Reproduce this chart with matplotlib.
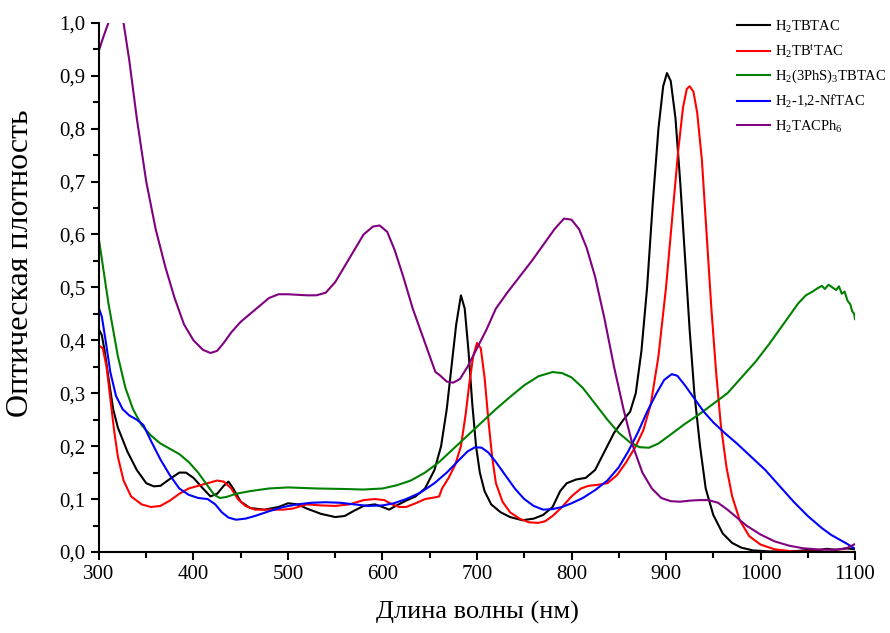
import matplotlib
matplotlib.use("Agg")
import matplotlib.pyplot as plt
from matplotlib.ticker import MultipleLocator, FuncFormatter

plt.rcParams['font.family'] = ['Liberation Serif', 'DejaVu Serif']
plt.rcParams['mathtext.fontset'] = 'custom'
plt.rcParams['mathtext.rm'] = 'Liberation Serif'
plt.rcParams['mathtext.it'] = 'Liberation Serif:italic'

# H2TBTAC
wl_black = [300, 303, 306, 310, 315, 320, 330, 340, 350, 358, 365, 375, 385, 392, 400, 410, 418, 425, 432, 437,
            442, 450, 460, 475, 490, 500, 510, 520, 535, 550, 560, 570, 580, 592, 600, 607, 615, 625, 635, 645,
            655, 662, 668, 673, 678, 683, 687, 691, 695, 699, 703, 708, 715, 725, 735, 748, 760, 770, 780, 788,
            795, 805, 815, 825, 835, 845, 855, 862, 868, 874, 880, 886, 892, 897, 901, 905, 910, 915, 920, 925,
            930, 936, 942, 950, 960, 970, 980, 992, 1010, 1040, 1050, 1060, 1070, 1080, 1090, 1100]
ab_black = [.42, .41, .38, .33, .27, .235, .19, .155, .13, .124, .125, .138, .15, .15, .14, .12, .105, .11, .125, .133,
            .12, .095, .083, .08, .085, .092, .09, .082, .072, .066, .068, .078, .087, .09, .085, .08, .088, .097, .105, .12,
            .155, .2, .27, .35, .43, .485, .46, .38, .28, .2, .15, .115, .09, .075, .066, .06, .063, .07, .085, .115,
            .13, .137, .14, .155, .19, .225, .25, .265, .3, .38, .5, .66, .8, .88, .905, .89, .82, .7, .56, .42,
            .3, .2, .12, .07, .035, .017, .008, .003, .001, .002, .004, .003, .006, .004, .007, .005]

# H2TBtTAC
wl_red = [300, 304, 308, 312, 316, 320, 326, 334, 345, 355, 365, 375, 385, 395, 405, 415, 425, 432, 440, 447,
          455, 465, 480, 495, 505, 520, 535, 550, 565, 580, 592, 602, 610, 618, 625, 635, 645, 655, 660, 663,
          670, 677, 683, 688, 692, 696, 700, 704, 708, 712, 716, 720, 727, 735, 745, 755, 765, 772, 780, 790,
          800, 810, 818, 828, 838, 848, 858, 868, 876, 884, 892, 900, 907, 913, 918, 922, 925, 929, 933, 938,
          943, 948, 953, 958, 964, 970, 978, 988, 1000, 1015, 1035, 1100]
ab_red = [.39, .385, .35, .29, .23, .18, .135, .105, .09, .085, .087, .097, .11, .12, .125, .13, .135, .133, .12, .1,
          .087, .08, .08, .08, .082, .09, .088, .087, .09, .098, .1, .098, .09, .085, .085, .092, .1, .103, .105, .12,
          .14, .165, .2, .26, .32, .37, .395, .385, .33, .25, .18, .13, .095, .075, .063, .056, .055, .058, .068, .085,
          .105, .12, .125, .127, .13, .145, .17, .2, .23, .28, .37, .5, .64, .76, .84, .875, .88, .87, .83, .74,
          .6, .46, .34, .24, .16, .105, .06, .03, .014, .005, .001, 0.0]

# H2(3PhS)3TBTAC
wl_green = [300, 305, 310, 315, 320, 328, 336, 345, 355, 365, 375, 385, 395, 405, 415, 422, 428, 435, 445, 460,
            480, 500, 530, 560, 580, 600, 615, 630, 645, 660, 675, 690, 705, 720, 735, 750, 765, 780, 790, 800,
            812, 825, 838, 850, 862, 872, 882, 892, 905, 920, 935, 950, 965, 980, 995, 1010, 1022, 1032, 1040, 1048,
            1055, 1060, 1065, 1068, 1072, 1076, 1080, 1083, 1086, 1089, 1092, 1095, 1097, 1099, 1100]
ab_green = [.59, .53, .47, .42, .37, .31, .27, .24, .22, .205, .195, .185, .17, .15, .125, .108, .102, .104, .11, .115,
            .12, .122, .12, .119, .118, .12, .126, .135, .15, .17, .195, .22, .245, .27, .293, .315, .332, .34, .338, .33,
            .31, .28, .25, .225, .207, .198, .197, .205, .222, .242, .26, .28, .3, .33, .36, .395, .425, .45, .47, .485,
            .492, .498, .503, .497, .505, .5, .495, .502, .488, .492, .475, .468, .455, .45, .44]

# H2-1,2-NfTAC
wl_blue = [300, 303, 307, 312, 318, 325, 332, 340, 347, 355, 365, 375, 385, 395, 405, 415, 423, 430, 437, 445,
           455, 465, 480, 495, 510, 525, 540, 555, 570, 585, 600, 612, 625, 640, 655, 668, 680, 690, 698, 705,
           712, 720, 730, 740, 750, 760, 770, 780, 790, 800, 812, 825, 838, 850, 860, 870, 880, 890, 898, 906,
           912, 920, 930, 940, 950, 962, 975, 990, 1005, 1020, 1035, 1050, 1065, 1075, 1085, 1092, 1100]
ab_blue = [.46, .445, .4, .34, .295, .27, .258, .25, .24, .21, .175, .145, .12, .108, .102, .1, .09, .075, .065, .061,
           .063, .068, .077, .085, .09, .093, .094, .093, .09, .087, .088, .092, .1, .112, .13, .15, .172, .19, .198, .197,
           .188, .17, .145, .12, .1, .087, .08, .081, .085, .092, .102, .117, .135, .16, .19, .225, .265, .3, .325, .336,
           .333, .315, .29, .265, .245, .225, .205, .18, .155, .125, .095, .068, .045, .032, .022, .015, .006]

# H2TACPh6
wl_purple = [300, 305, 310, 315, 320, 326, 332, 340, 350, 360, 370, 380, 390, 400, 410, 418, 425, 432, 440, 450,
             460, 470, 480, 490, 500, 510, 520, 530, 540, 550, 560, 570, 580, 590, 597, 605, 613, 622, 632, 642,
             650, 656, 660, 668, 675, 682, 690, 700, 710, 720, 732, 745, 758, 770, 782, 792, 800, 808, 816, 825,
             835, 845, 855, 865, 875, 885, 895, 905, 915, 925, 935, 945, 955, 965, 975, 985, 1000, 1015, 1030, 1045,
             1060, 1075, 1090, 1100]
ab_purple = [.948, .975, 1.0, 1.03, 1.04, 1.0, .93, .82, .7, .61, .54, .48, .43, .4, .382, .376, .38, .395, .415, .435,
             .45, .465, .48, .487, .487, .486, .485, .485, .49, .51, .54, .57, .6, .615, .617, .605, .57, .52, .46, .41,
             .37, .34, .335, .322, .32, .327, .35, .385, .42, .46, .49, .52, .55, .58, .61, .63, .628, .61, .575, .52,
             .44, .35, .27, .2, .15, .12, .102, .096, .095, .097, .098, .098, .093, .08, .065, .05, .033, .02, .012, .007,
             .005, .004, .006, .015]

series = [
    (wl_black, ab_black, 'black', r'H$_2$TBTAC'),
    (wl_red, ab_red, '#ff0000', r'H$_2$TB$^\mathrm{t}$TAC'),
    (wl_green, ab_green, '#008000', r'H$_2$(3PhS)$_3$TBTAC'),
    (wl_blue, ab_blue, '#0000ff', r'H$_2$-1,2-NfTAC'),
    (wl_purple, ab_purple, '#800080', r'H$_2$TACPh$_6$'),
]

fig = plt.figure(figsize=(8.9, 6.33), dpi=100)
ax = fig.add_axes([0.1112, 0.128, 0.8495, 0.836])

for wl, ab, col, name in series:
    ax.plot(wl, ab, color=col, lw=1.5, label=name)

ax.set_xlim(300, 1100)
ax.set_ylim(0, 1.0)
ax.xaxis.set_major_locator(MultipleLocator(100))
ax.xaxis.set_minor_locator(MultipleLocator(50))
ax.yaxis.set_major_locator(MultipleLocator(0.1))
ax.yaxis.set_minor_locator(MultipleLocator(0.05))
ax.yaxis.set_major_formatter(FuncFormatter(lambda v, p: ('%.1f' % v).replace('.', ',')))

for s in ['top', 'right']:
    ax.spines[s].set_visible(False)
for s in ['left', 'bottom']:
    ax.spines[s].set_linewidth(1.5)
ax.tick_params(which='major', direction='out', length=6, width=1.5, labelsize=15)
ax.tick_params(which='minor', direction='out', length=4, width=1.5)

ax.set_xlabel('Длина волны (нм)', fontsize=19, labelpad=12)
ax.set_ylabel('Оптическая плотность', fontsize=23)
ax.yaxis.set_label_coords(-0.084, 0.546)

ax.legend(loc='upper left', bbox_to_anchor=(0.828, 1.03), frameon=False, fontsize=10.5,
          handlelength=2.3, handletextpad=0.33, labelspacing=0.55, borderpad=0.3)

fig.savefig('out.png', dpi=100)
